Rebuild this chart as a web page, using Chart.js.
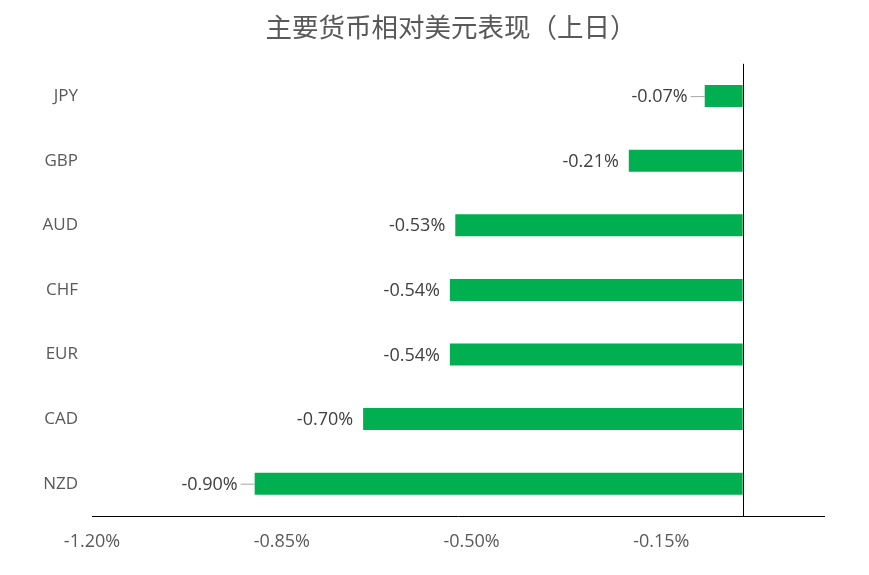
<!DOCTYPE html>
<html>
<head>
<meta charset="utf-8">
<script src="https://cdn.jsdelivr.net/npm/chart.js@4.4.0/dist/chart.umd.min.js"></script>
<style>
  body { margin: 0; background: #fff; }
  #wrap { width: 869px; height: 575px; }
</style>
</head>
<body>
<div id="wrap"><canvas id="fxChart"></canvas></div>
<script>
// Chart data
const currencies = ['JPY', 'GBP', 'AUD', 'CHF', 'EUR', 'CAD', 'NZD'];
const changePct = [-0.07, -0.21, -0.53, -0.54, -0.54, -0.70, -0.90];
const xTicks = [-1.20, -0.85, -0.50, -0.15];
const chartTitle = '主要货币相对美元表现（上日）';

const textColor = '#595959';
const latinFont = '"Open Sans", "Liberation Sans", sans-serif';

// Draw the zero line and the value labels next to each bar
const valueLabels = {
    id: 'valueLabels',
    afterDatasetsDraw(chart, args, opts) {
        const ctx = chart.ctx;
        const xScale = chart.scales.x;
        const area = chart.chartArea;
        const zeroX = Math.round(xScale.getPixelForValue(0)) + 0.5;

        ctx.save();
        ctx.strokeStyle = '#000';
        ctx.lineWidth = 1;
        ctx.beginPath();
        ctx.moveTo(zeroX, area.top);
        ctx.lineTo(zeroX, area.bottom);
        ctx.stroke();

        ctx.font = '18px ' + latinFont;
        ctx.fillStyle = '#404040';
        ctx.textAlign = 'right';
        ctx.textBaseline = 'middle';
        const meta = chart.getDatasetMeta(0);
        meta.data.forEach((bar, i) => {
            const left = Math.min(bar.x, bar.base);
            let gap = opts.gap;
            // labels pulled away from the bar get a small leader line
            if (opts.leaders.includes(i)) {
                gap = opts.leaderGap;
                ctx.strokeStyle = '#a6a6a6';
                ctx.beginPath();
                ctx.moveTo(left - gap + 3, bar.y + 0.5);
                ctx.lineTo(left, bar.y + 0.5);
                ctx.stroke();
            }
            ctx.fillText(changePct[i].toFixed(2) + '%', left - gap, bar.y + 1);
        });
        ctx.restore();
    }
};

const ctx = document.getElementById('fxChart').getContext('2d');
const fxChart = new Chart(ctx, {
    type: 'bar',
    data: {
        labels: currencies,
        datasets: [{
            data: changePct,
            backgroundColor: '#00B050',
            borderWidth: 0,
            barPercentage: 0.34,
            categoryPercentage: 1
        }]
    },
    options: {
        indexAxis: 'y',
        responsive: true,
        maintainAspectRatio: false,
        animation: false,
        layout: { padding: { left: 33, right: 0, top: 0, bottom: 0 } },
        plugins: {
            legend: { display: false },
            tooltip: { enabled: false },
            title: {
                display: true,
                text: chartTitle,
                color: textColor,
                font: { size: 26.5, family: '"Noto Sans CJK SC", sans-serif', weight: 'normal' },
                padding: { top: 11, bottom: 21 }
            },
            valueLabels: { gap: 10, leaderGap: 17, leaders: [0, 6] }
        },
        scales: {
            x: {
                min: -1.20,
                max: 0.15,
                grid: { display: false },
                border: { display: true, color: '#000', width: 1 },
                afterBuildTicks(scale) {
                    scale.ticks = xTicks.map(v => ({ value: v }));
                },
                afterFit(scale) { scale.height = 59; },
                ticks: {
                    color: textColor,
                    font: { size: 18, family: latinFont },
                    padding: 7,
                    callback: v => v.toFixed(2) + '%'
                }
            },
            y: {
                grid: { display: false },
                border: { display: false },
                afterFit(scale) { scale.width = 59; },
                ticks: {
                    color: textColor,
                    font: { size: 17, family: latinFont },
                    padding: 6
                }
            },
            // empty right-hand axis only to leave blank space on the right
            yRight: {
                position: 'right',
                grid: { display: false },
                border: { display: false },
                ticks: { display: false },
                afterFit(scale) { scale.width = 45; }
            }
        }
    },
    plugins: [valueLabels]
});
</script>
</body>
</html>
